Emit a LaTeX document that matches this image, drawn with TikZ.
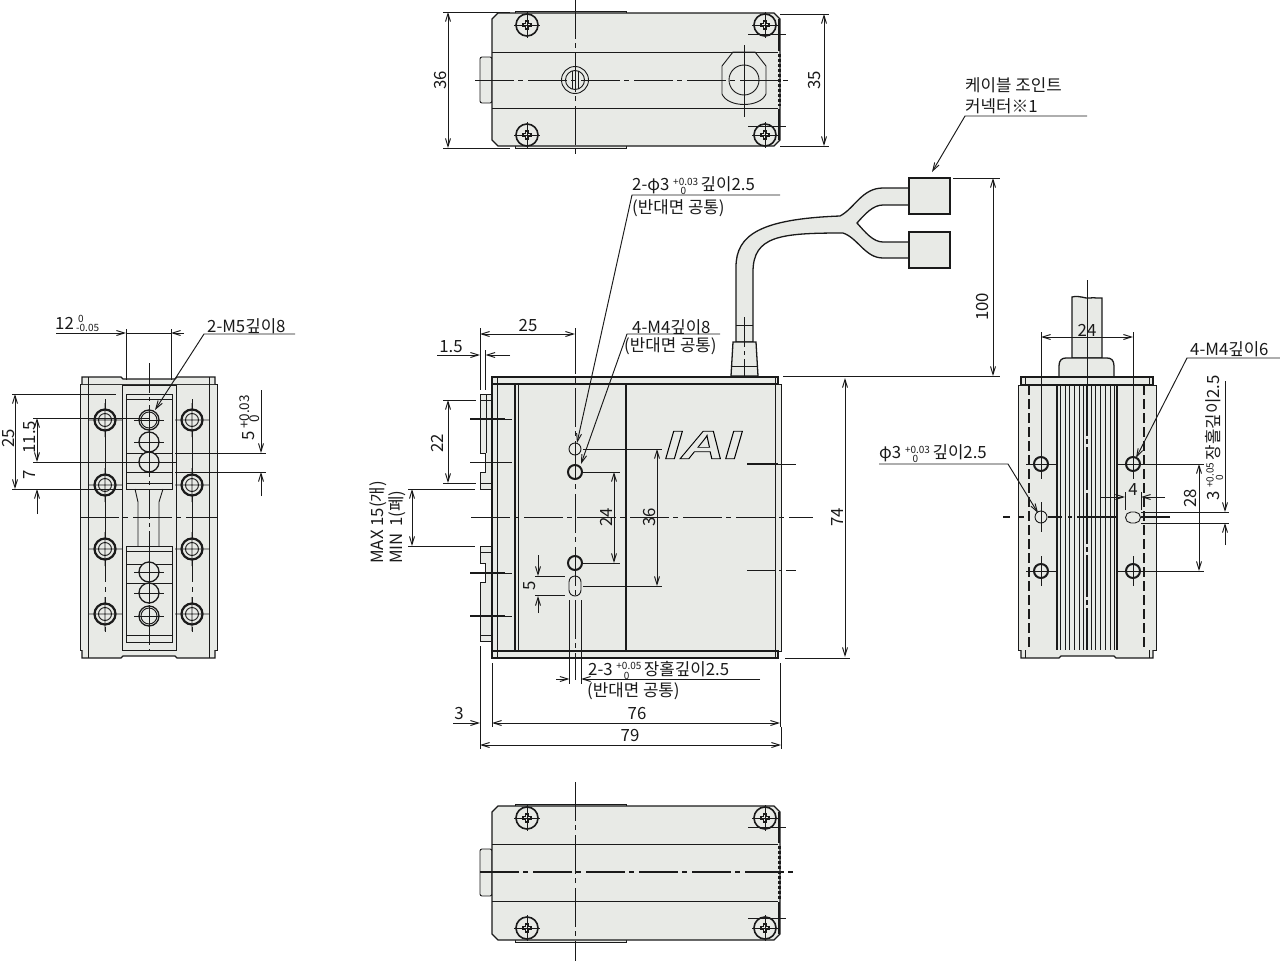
\documentclass[tikz,border=0pt]{standalone}
\usepackage{fontspec}
\setmainfont{Noto Sans CJK KR}
\newfontfamily\logofont{Liberation Sans}
\usetikzlibrary{arrows.meta}
\definecolor{bodyc}{HTML}{E8EAE6}
\definecolor{inkc}{HTML}{1A1A1A}
\newcommand{\tolfont}{\fontsize{10}{10}\selectfont}
% tolerance stack: upper value, lower value under its first digit
\newcommand{\tol}[2]{{\tolfont\makebox[2.75em][l]{\rlap{\raisebox{.55em}{#1}}\hspace{.75em}\raisebox{-.4em}{#2}}}}
\newcommand{\screwhead}[1]{
\draw [thickln,line width=1.6pt,fill=bodyc] (#1) circle (11);
\draw [outln,shift={(#1)}] (-1.5,-4) -- (1.5,-4) -- (1.5,-1.5) -- (4,-1.5) -- (4,1.5) -- (1.5,1.5) -- (1.5,4) -- (-1.5,4) -- (-1.5,1.5) -- (-4,1.5) -- (-4,-1.5) -- (-1.5,-1.5) -- cycle;
\draw [thinln,shift={(#1)}] (-13,0) -- (13,0) (0,-13) -- (0,13);
}
\newcommand{\capscrew}[1]{
\draw [thickln,line width=2.2pt,fill=bodyc] (#1) circle (10.5);
\draw [thinln,shift={(#1)}] (0,0) circle (6.5) (-17,0) -- (17,0) (0,-17) -- (0,17);
}
\newcommand{\bore}[2]{
\draw [outln,fill=bodyc] (#1) circle (#2);
\draw [thinln,shift={(#1)}] (-15,0) -- (15,0) (0,-11) -- (0,11);
}
\tikzset{
outln/.style={line width=1.3pt,draw=inkc},
thickln/.style={line width=2pt,draw=inkc},
thinln/.style={line width=0.9pt,draw=inkc},
cen/.style={line width=1pt,draw=inkc,dash pattern=on 39pt off 4pt on 5pt off 5pt},
dimln/.style={line width=0.95pt,draw=inkc,>={Straight Barb[length=8pt,width=5pt]}},
lbl/.style={inner sep=0pt,text=inkc,font=\fontsize{16.8}{18}\selectfont},
rlbl/.style={lbl,rotate=90}
}
\begin{document}
\begin{tikzpicture}[x=1pt,y=-1pt]
\useasboundingbox (0,0) rectangle (1280,961);
% top view
\draw [thinln,fill=bodyc,rounded corners=2] (492,57) -- (480,57) -- (480,103) -- (492,103) -- cycle;
\draw [thinln,fill=bodyc] (515,11.5) -- (626,11.5) -- (626,148.5) -- (515,148.5) -- cycle;
\draw [outln,fill=bodyc] (498,13) -- (774,13) -- (780,19) -- (780,140) -- (774,146) -- (498,146) -- (492,140) -- (492,19) -- cycle;
\draw [thinln] (492,52) -- (778,52) (492,108) -- (778,108);
\draw [thickln] (779,19) -- (779,51) (779,109) -- (779,140);
\draw [thickln,line width=2.5pt,dash pattern=on 3pt off 2pt] (779.5,54) -- (779.5,106);
\foreach \sx/\sy in {527/25,765/25,527/135,765/135} \screwhead{\sx,\sy};
\draw [thinln,fill=bodyc] (575,80) circle (13.5) (575,80) circle (9.5);
\draw [thinln] (572,71) -- (572,89) (578,71) -- (578,89);
\draw [thinln] (733,52) -- (755,52) -- (766,66) -- (766,94) .. controls (760,108) and (728,108) .. (722,94) -- (722,66) -- cycle;
\draw [thinln] (744,80) circle (15);
\draw [cen] (475,80) -- (792,80);
\draw [cen] (575,0) -- (575,155);
\draw [thinln] (744,45) -- (744,117);
\draw [thinln] (748,34) -- (786,34) (748,126) -- (786,126);
\draw [dimln] (443,12) -- (510,12) (443,148) -- (510,148) (780,14) -- (829,14) (780,146) -- (829,146);
\draw [dimln,<->] (448,12) -- (448,148);
\draw [dimln,<->] (824,14) -- (824,146);
\node [rlbl] (w36) at (441,80) {36};
\node [rlbl] (w35) at (815,80) {35};
% cable and connectors
\draw [outln,fill=bodyc] (736,342) -- (736,267) .. controls (736,235) and (760,219) .. (840,216) .. controls (855,208) and (862,188) .. (883,188) -- (909,188) -- (909,205) -- (883,205) .. controls (873,205) and (865,214) .. (857,223) .. controls (865,232) and (873,242) .. (883,242) -- (909,242) -- (909,258) -- (883,258) .. controls (865,258) and (858,238) .. (843,233) .. controls (780,233) and (753,236) .. (753,272) -- (753,342) -- cycle;
\draw [outln,fill=bodyc] (909,178) rectangle (950,214);
\draw [outln,fill=bodyc] (909,232) rectangle (950,268);
\draw [thinln] (736,325) -- (753,325);
\draw [outln,fill=bodyc] (733,342) -- (756,342) -- (758,376) -- (731,376) -- cycle;
\draw [thinln] (732,366) -- (757,366);
\draw [thinln,dash pattern=on 30pt off 4pt on 4pt off 4pt] (744,317) -- (744,402);
% front view
\draw [thinln,fill=bodyc] (492,394) -- (480,394) -- (480,453) -- (485,453) -- (485,472) -- (480,472) -- (480,489) -- (492,489) -- cycle;
\draw [thinln,fill=bodyc] (492,546) -- (480,546) -- (480,563) -- (485,563) -- (485,582) -- (480,582) -- (480,641) -- (492,641) -- cycle;
\draw [thinln] (486,394) -- (486,453) (480,400) -- (492,400) (480,483) -- (492,483) (480,552) -- (492,552) (480,635) -- (492,635);
\draw [thinln,fill=bodyc] (492,384) rectangle (781,651);
\draw [outln,fill=bodyc] (492,377) rectangle (778,384);
\draw [outln,fill=bodyc] (492,651) rectangle (778,658);
\draw [thinln] (497,377) -- (497,658) (775,377) -- (775,658) (518,384) -- (518,651);
\draw [outln] (492,384) -- (492,651);
\draw [thickln] (515,384) -- (515,651) (625.5,384) -- (625.5,651);
\draw [thinln,fill=bodyc] (575,449) circle (6);
\draw [thickln] (575,472) circle (7);
\draw [thickln] (575,563) circle (7);
\draw [thinln,fill=bodyc] (569,582) arc (180:360:6) -- (581,590) arc (0:180:6) -- cycle;
\node [inner sep=0pt,xscale=1.5,font=\logofont\bfseries\itshape\fontsize{40}{40}\selectfont] (logo) at (703,445) {\special{pdf:code 1 Tr 0.7 w}IAI\special{pdf:code 0 Tr}};
\draw [cen] (471,517) -- (813,517);
\draw [cen,line width=0.8pt] (575,335) -- (575,680);
\draw [outln] (470,419) -- (505,419) (470,573) -- (505,573) (470,616) -- (505,616);
\draw [thinln] (470,462) -- (505,462);
\draw [thinln] (505,419) -- (512,419) (505,462) -- (512,462) (505,573) -- (512,573) (505,616) -- (512,616);
\draw [outln] (747,464) -- (778,464);
\draw [thinln,dash pattern=on 28pt off 4pt on 3pt off 4pt] (747,570) -- (796,570);
\draw [thinln,dash pattern=on 28pt off 4pt on 3pt off 4pt] (778,464) -- (796,464);
% front view dimensions
\draw [dimln] (480,328) -- (480,390) (575,328) -- (575,335) (485.5,350) -- (485.5,390);
\draw [dimln,<->] (480,334) -- (575,334);
\node [lbl] (a25) at (528,326) {25};
\draw [dimln,->] (437,355) -- (480,355);
\draw [dimln,->] (510,355) -- (485.5,355);
\node [lbl] (a15) at (451,347) {1.5};
\draw [dimln] (443,400) -- (476,400) (443,483) -- (476,483);
\draw [dimln,<->] (448,400) -- (448,483);
\node [rlbl] (a22) at (437,443) {22};
\draw [dimln] (408,489) -- (475,489) (408,546) -- (475,546);
\draw [dimln,<->] (412,489) -- (412,546);
\node [rlbl,anchor=west] (amax) at (378,564) {MAX 15(개)};
\node [rlbl,anchor=west] (amin) at (397,564) {MIN\, 1(폐)};
\draw [dimln] (583,472) -- (620,472) (583,563) -- (620,563);
\draw [dimln,<->] (614,472) -- (614,563);
\node [rlbl] (a24) at (606,517) {24};
\draw [dimln] (583,449) -- (662,449) (583,586) -- (662,586);
\draw [dimln,<->] (657,449) -- (657,586);
\node [rlbl] (a36) at (650,517) {36};
\draw [dimln] (535,576) -- (565,576) (535,595.5) -- (565,595.5);
\draw [dimln,->] (538,555) -- (538,576);
\draw [dimln,->] (538,613) -- (538,596);
\node [rlbl] (a5) at (530,586) {5};
\draw [dimln] (569.5,600) -- (569.5,684) (581,600) -- (581,684);
\draw [dimln,->] (556,679) -- (569.5,679);
\draw [dimln,->] (760,679) -- (581,679);
\node [lbl,anchor=west] (slot) at (588,670) {2-3 \tol{+0.05}{0}장홀깊이2.5};
\node [lbl,anchor=west] (slotb) at (587,691) {(반대면 공통)};
\draw [dimln] (492,663) -- (492,727) (780,663) -- (780,727) (480,646) -- (480,749) (781,727) -- (781,749);
\draw [dimln,<->] (492,723) -- (780,723);
\draw [dimln,<->] (480,745) -- (781,745);
\draw [dimln,->] (453,723) -- (480,723);
\node [lbl] (a3) at (459,714) {3};
\node [lbl] (a76) at (637,714) {76};
\node [lbl] (a79) at (630,736) {79};
\draw [dimln,<->] (845,378) -- (845,657);
\node [rlbl] (a74) at (838,517) {74};
\draw [dimln] (783,376) -- (1000,376) (953,178) -- (1000,178) (785,658) -- (850,658);
\draw [outln,line width=1.6pt] (783,376.5) -- (850,376.5);
\draw [dimln,<->] (993,178) -- (993,376);
\node [rlbl] (a100) at (982,307) {100};
% leaders
\node [lbl,anchor=west] (pinh) at (632,186) {2-φ3 \tol{+0.03}{0}깊이2.5};
\node [lbl,anchor=west] (pinhb) at (632,208) {(반대면 공통)};
\draw [dimln,->] (780,195) -- (632,195) -- (577,443);
\node [lbl,anchor=west] (tapa) at (632,327) {4-M4깊이8};
\node [lbl,anchor=west] (tapab) at (624,346) {(반대면 공통)};
\draw [dimln,->] (720,334) -- (627,334) -- (581,464);
\node [lbl,anchor=west] (conn) at (965,85) {케이블 조인트};
\node [lbl,anchor=west] (connb) at (965,106) {커넥터※1};
\draw [dimln,->] (1087,116) -- (965,116) -- (932,172);
% left view
\draw [thinln,fill=bodyc] (80,384) rectangle (217,650);
\draw [outln,fill=bodyc] (82,384) -- (82,377) -- (121,377) -- (123,379) -- (175,379) -- (177,377) -- (215,377) -- (215,384);
\draw [outln,fill=bodyc] (82,650) -- (82,658) -- (121,658) -- (123,656) -- (175,656) -- (177,658) -- (215,658) -- (215,650);
\draw [thinln] (88,377) -- (88,658) (209,377) -- (209,658);
\draw [thinln] (122,385) rectangle (176,650);
\draw [thinln] (126,394) rectangle (172,489) (126,399) -- (172,399) (126,483) -- (172,483);
\draw [thinln] (126,546) rectangle (172,642) (126,551) -- (172,551) (126,564) -- (172,564) (126,583) -- (172,583) (126,635) -- (172,635);
\draw [thinln] (135,489) -- (138,502) -- (138,546) (163,489) -- (159,502) -- (159,546);
\draw [thinln] (126,453) -- (172,453) (126,472) -- (172,472);
\draw [thinln] (105,399) -- (105,517) (192,399) -- (192,517);
\draw [cen] (80,517) -- (217,517);
\draw [thinln,dash pattern=on 25pt off 5pt on 5pt off 5pt] (105,517) -- (105,635) (192,517) -- (192,635);
\foreach \hy in {420,485,549,614} {\capscrew{105,\hy} \capscrew{192,\hy}}
\foreach \hy/\hr in {420/10,442/10,462/10,572/10,593/10,616/10} \bore{149,\hy}{\hr};
\draw [thinln] (149,420) circle (8) (149,616) circle (8);
\draw [thinln,dash pattern=on 30pt off 4pt on 4pt off 4pt] (149,363) -- (149,650);
\draw [dimln] (126,329) -- (126,380) (171,329) -- (171,380);
\draw [dimln,->] (56,333) -- (126,333);
\draw [dimln,->] (184,333) -- (171,333);
\draw [dimln] (126,333) -- (171,333);
\node [lbl,anchor=west] (sl12) at (55,323) {12};
\node [inner sep=0pt,text=inkc,anchor=west,font=\tolfont] (sl12a) at (78,319) {0};
\node [inner sep=0pt,text=inkc,anchor=west,font=\tolfont] (sl12b) at (76,328) {-0.05};
\node [lbl,anchor=west] (mfive) at (207,326) {2-M5깊이8};
\draw [dimln,->] (295,334) -- (204,334) -- (155,410);
\draw [dimln] (12,394) -- (116,394) (12,489) -- (122,489) (33,418) -- (150,418) (33,462) -- (176,462);
\draw [dimln,<->] (15,394) -- (15,489);
\draw [dimln,<->] (37,418) -- (37,462);
\draw [dimln,->] (37,514) -- (37,489);
\node [rlbl] (l25) at (9,438) {25};
\node [rlbl] (l115) at (30,437) {11.5};
\node [rlbl] (l7) at (30,475) {7};
\draw [dimln] (175,453) -- (266,453) (175,472) -- (266,472);
\draw [dimln,->] (261,390) -- (261,453);
\draw [dimln,->] (261,496) -- (261,472);
\node [rlbl] (l5) at (249,436) {5};
\node [inner sep=0pt,text=inkc,rotate=90,anchor=west,font=\fontsize{13.5}{13}\selectfont] (l5a) at (245,429) {+0.03};
\node [inner sep=0pt,text=inkc,rotate=90,anchor=west,font=\fontsize{13.5}{13}\selectfont] (l5b) at (255,423) {0};
% right view
\draw [outln,fill=bodyc] (1072,358) -- (1072,297) .. controls (1080,295) and (1085,299) .. (1090,298) .. controls (1095,297) and (1098,299) .. (1102,298) -- (1102,358) -- cycle;
\draw [outln,fill=bodyc] (1059,378) -- (1059,366) .. controls (1059,360) and (1062,358) .. (1066,358) -- (1107,358) .. controls (1111,358) and (1114,360) .. (1114,366) -- (1114,378) -- cycle;
\draw [thinln,fill=bodyc] (1018,385) rectangle (1156,650);
\draw [outln,fill=bodyc] (1021,377) rectangle (1153,385);
\draw [outln,fill=bodyc] (1021,650) -- (1021,658) -- (1059,658) -- (1061,656) -- (1114,656) -- (1116,658) -- (1153,658) -- (1153,650);
\draw [thinln] (1025,377) -- (1025,385) (1149,377) -- (1149,385) (1025,650) -- (1025,658) (1149,650) -- (1149,658);
\foreach \rx in {1060,1065,1069,1074,1079,1083,1091,1095,1100,1105,1110,1114} \draw [thinln] (\rx,385) -- (\rx,650);
\draw [outln] (1057,385) -- (1057,650) (1117,385) -- (1117,650);
\draw [thickln] (1087,385) -- (1087,650);
\foreach \gy in {437,445,491,545,553,598,606} \draw [bodyc,line width=2pt] (1087,\gy-1.5) -- (1087,\gy+1.5);
\draw [outln,dash pattern=on 10pt off 4pt] (1029,385) -- (1029,650) (1144,385) -- (1144,650);
\foreach \hx in {1041,1133} \foreach \hy in {464,571} {
\draw [thickln,fill=bodyc] (\hx,\hy) circle (7);
\draw [thinln] (\hx-15,\hy) -- (\hx+15,\hy) (\hx,\hy-15) -- (\hx,\hy+15);
}
\draw [thinln,fill=bodyc] (1041,517) circle (6);
\draw [thinln] (1041,502) -- (1041,532);
\draw [thinln,fill=bodyc] (1131,512) -- (1135,512) arc (-90:90:5.5) -- (1131,523) arc (90:270:5.5) -- cycle;
\draw [outln] (1003,517) -- (1010,517) (1018,517) -- (1024,517) (1048,517) -- (1062,517) (1068,517) -- (1072,517) (1077,517) -- (1116,517) (1141,517) -- (1170,517);
\draw [thinln] (1087,280) -- (1087,385);
\draw [dimln] (1041,332) -- (1041,465) (1133,332) -- (1133,465);
\draw [dimln,<->] (1041,337) -- (1133,337);
\node [lbl] (r24) at (1087,330) {24};
\node [lbl,anchor=west] (tapc) at (1190,349) {4-M4깊이6};
\draw [dimln,->] (1280,358) -- (1187,358) -- (1136,458);
\node [lbl,anchor=west] (dowel) at (879,454) {φ3 \tol{+0.03}{0}깊이2.5};
\draw [dimln,->] (879,464) -- (1008,464) -- (1038,513);
\draw [dimln] (1125,492) -- (1125,510) (1141,492) -- (1141,510);
\draw [dimln,->] (1100,497) -- (1125,497);
\draw [dimln,->] (1165,497) -- (1141,497);
\node [lbl] (r4) at (1133,490) {4};
\draw [dimln] (1140,464) -- (1204,464) (1140,571) -- (1204,571);
\draw [dimln,<->] (1199,464) -- (1199,571);
\node [rlbl] (r28) at (1190,498) {28};
\draw [dimln] (1141,512) -- (1229,512) (1141,523) -- (1229,523);
\draw [dimln,->] (1225,381) -- (1225,512);
\draw [dimln,->] (1225,545) -- (1225,523);
\node [rlbl,anchor=west] (rslot) at (1214,501) {3 \tol{+0.05}{0}장홀깊이2.5};
% bottom view
\draw [thinln,fill=bodyc,rounded corners=2] (492,849) -- (480,849) -- (480,896) -- (492,896) -- cycle;
\draw [thinln,fill=bodyc] (515,804) -- (626,804) -- (626,942) -- (515,942) -- cycle;
\draw [outln,fill=bodyc] (498,806) -- (774,806) -- (780,812) -- (780,934) -- (774,940) -- (498,940) -- (492,934) -- (492,812) -- cycle;
\draw [thinln] (492,844) -- (778,844) (492,901) -- (778,901);
\draw [thickln] (779,812) -- (779,843) (779,902) -- (779,934);
\draw [thickln,line width=2.5pt,dash pattern=on 3pt off 2pt] (779.5,846) -- (779.5,899);
\foreach \sx/\sy in {527/818,765/818,527/928,765/928} \screwhead{\sx,\sy};
\draw [cen,line width=1.3pt] (480,872) -- (793,872);
\draw [cen,line width=0.8pt] (575,782) -- (575,961);
\draw [thinln] (748,827) -- (786,827) (748,918) -- (786,918);
\end{tikzpicture}
\end{document}
